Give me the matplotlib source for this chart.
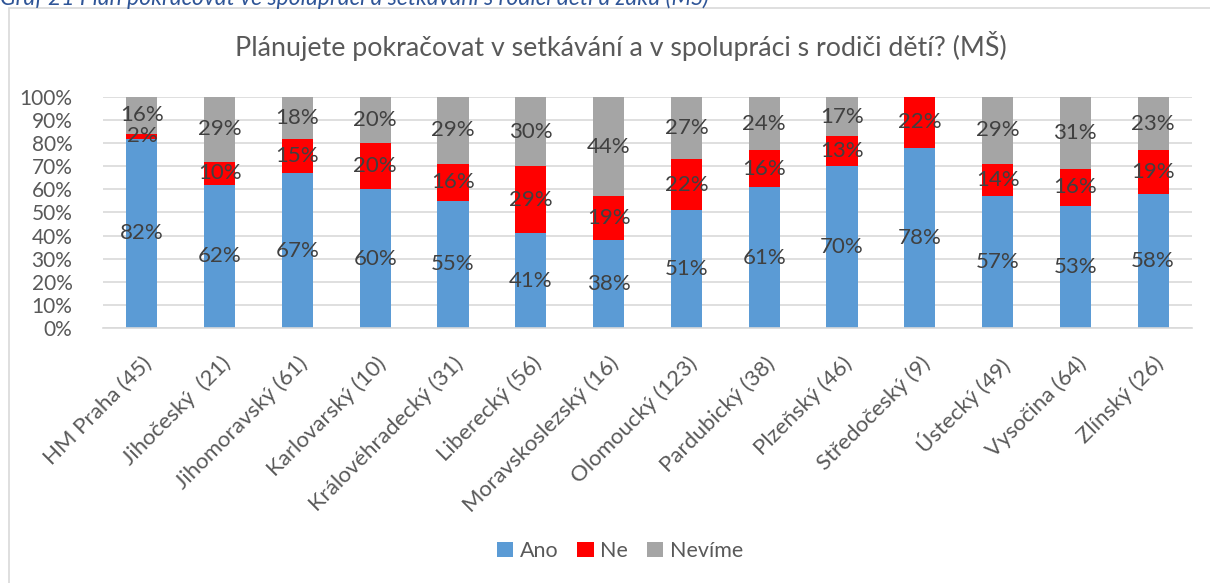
import matplotlib.pyplot as plt
import matplotlib.patches as mpatches
from matplotlib.ticker import PercentFormatter
import numpy as np

kraje = ["HM Praha (45)", "Jihočeský  (21)", "Jihomoravský (61)", "Karlovarský (10)",
         "Královéhradecký (31)", "Liberecký (56)", "Moravskoslezský (16)", "Olomoucký (123)",
         "Pardubický (38)", "Plzeňský (46)", "Středočeský (9)", "Ústecký (49)",
         "Vysočina (64)", "Zlínský (26)"]
ano = [82, 62, 67, 60, 55, 41, 38, 51, 61, 70, 78, 57, 53, 58]
ne = [2, 10, 15, 20, 16, 29, 19, 22, 16, 13, 22, 14, 16, 19]
nevime = [16, 29, 18, 20, 29, 30, 44, 27, 24, 17, 0, 29, 31, 23]

serie = [("Ano", ano, "#5B9BD5"), ("Ne", ne, "#FF0000"), ("Nevíme", nevime, "#A5A5A5")]

plt.rcParams['font.family'] = ['Lato', 'DejaVu Sans']

fig = plt.figure(figsize=(12.1, 5.83), dpi=100)
W, H = 1210, 583

# ramecek grafu
fig.patches.append(mpatches.Rectangle((9 / W, -0.1), 1.2, 1 - 8 / H + 0.1,
                                      transform=fig.transFigure, fill=False,
                                      edgecolor="#D9D9D9", linewidth=1.2))

# popisek nad grafem (v originale oriznuty)
fig.text(0.0, 1 - 5 / H, "Graf 21 Plán pokračovat ve spolupráci a setkávání s rodiči dětí a žáků (MŠ)",
         fontsize=16.5, style="italic", color="#2F5597", va="baseline", ha="left")

ax = fig.add_axes([103 / W, 1 - 328 / H, 1089 / W, (328 - 97) / H])
x = np.arange(len(kraje))
bottom = np.zeros(len(kraje))
for name, vals, col in serie:
    vals = np.array(vals, dtype=float)
    ax.bar(x, vals, 0.4, bottom=bottom, color=col, label=name, zorder=2)
    for xi, b, v in zip(x, bottom, vals):
        if v <= 0:
            continue
        top = min(b + v, 100)
        ax.text(xi, (b + top) / 2, f"{int(v)}%", ha="center", va="center",
                fontsize=16, color="#404040", zorder=3)
    bottom += vals

ax.set_xlim(-0.5, len(kraje) - 0.5)
ax.set_ylim(0, 100)
ax.set_yticks(np.arange(0, 101, 10))
ax.yaxis.set_major_formatter(PercentFormatter(decimals=0))
ax.grid(axis="y", color="#D9D9D9", linewidth=1.2, zorder=0)
for s in ["top", "right", "left"]:
    ax.spines[s].set_visible(False)
ax.spines["bottom"].set_color("#D9D9D9")
ax.spines["bottom"].set_linewidth(1.2)
ax.tick_params(axis="both", length=0, labelcolor="#595959")
ax.tick_params(axis="y", pad=22, labelsize=15)
ax.set_xticks(x)
ax.set_xticklabels(kraje, rotation=45, ha="right", rotation_mode="anchor")
ax.tick_params(axis="x", pad=18, labelsize=16)

fig.text(621 / W, 1 - 46 / H, "Plánujete pokračovat v setkávání a v spolupráci s rodiči dětí? (MŠ)",
         ha="center", va="center", fontsize=19.3, color="#595959")

ax.legend(loc="center", bbox_to_anchor=(620 / W, 1 - 551 / H), bbox_transform=fig.transFigure,
          ncol=3, frameon=False, fontsize=15.5, labelcolor="#595959",
          handlelength=0.75, handleheight=0.75, handletextpad=0.3, columnspacing=0.9)

fig.savefig("out.png", dpi=100)
